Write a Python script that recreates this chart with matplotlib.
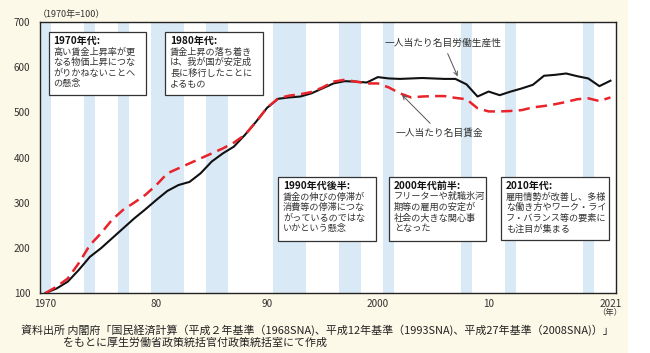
import numpy as np
import matplotlib.pyplot as plt
from matplotlib.patches import Rectangle

plt.rcParams['font.family'] = ['Noto Sans CJK JP', 'DejaVu Sans']

years = list(range(1970, 2022))
productivity = [100, 110, 125, 151, 180, 199, 221, 243, 265, 285,
                306, 326, 339, 346, 365, 391, 409, 424, 450, 479,
                510, 530, 533, 535, 542, 553, 564, 569, 568, 566,
                578, 575, 574, 575, 576, 575, 574, 574, 562, 535,
                546, 538, 546, 553, 561, 581, 583, 586, 580, 575,
                558, 570]
wage = [100, 114, 132, 166, 206, 232, 262, 284, 300, 317,
        339, 365, 376, 387, 398, 409, 420, 433, 450, 479,
        510, 531, 537, 540, 545, 555, 568, 572, 568, 564,
        564, 555, 542, 533, 535, 536, 536, 532, 529, 509,
        502, 502, 503, 505, 511, 514, 518, 523, 529, 531,
        525, 533]

# 景気後退期
band_start = [1969.5, 1973.5, 1976.5, 1979.5, 1984.5, 1990.5, 1996.5, 2000.5, 2007.5, 2011.5, 2018.5]
band_end = [1970.5, 1974.5, 1977.5, 1982.5, 1986.5, 1993.5, 1998.5, 2001.5, 2008.5, 2012.5, 2019.5]

xticks = [1970, 1980, 1990, 2000, 2010, 2021]
xticklabels = ['1970', '80', '90', '2000', '10', '2021']

box_titles = ['1970年代:', '1980年代:', '1990年代後半:', '2000年代前半:', '2010年代:']
box_texts = [
    '高い賃金上昇率が更\nなる物価上昇につな\nがりかねないことへ\nの懸念',
    '賃金上昇の落ち着き\nは、我が国が安定成\n長に移行したことに\nよるもの',
    '賃金の伸びの停滞が\n消費等の停滞につな\nがっているのではな\nいかという懸念',
    'フリーターや就職氷河\n期等の雇用の安定が\n社会の大きな関心事\nとなった',
    '雇用情勢が改善し、多様\nな働き方やワーク・ライ\nフ・バランス等の要素に\nも注目が集まる',
]
# box extents (years, index values)
box_x0 = [1970.27, 1980.8, 1991.0, 2001.0, 2011.1]
box_x1 = [1979.1, 1989.6, 1999.8, 2009.8, 2020.9]
box_y0 = [538, 538, 215, 215, 217]
box_y1 = [678, 678, 357, 357, 357]

cream = '#FDF9E8'
fig = plt.figure(figsize=(6.5, 3.53), dpi=100, facecolor=cream)
fig.patches.append(Rectangle((628 / 650, 0), 22 / 650, 1, transform=fig.transFigure,
                             facecolor='white', edgecolor='none', zorder=0))
ax = fig.add_axes([40 / 650, 1 - 293 / 353, 576 / 650, 271 / 353])
ax.set_facecolor('white')

for s, e in zip(band_start, band_end):
    ax.axvspan(s, e, color='#D9E9F6', lw=0, zorder=0)

ax.plot(years, productivity, color='#111111', lw=1.5, zorder=3)
ax.plot(years, wage, color='#E8232A', lw=1.8, ls=(0, (4.5, 2.5)), zorder=4)

ax.set_xlim(1969.5, 2021.5)
ax.set_ylim(100, 700)
ax.set_yticks(range(100, 701, 100))
ax.set_xticks(xticks)
ax.set_xticklabels(xticklabels)
ax.tick_params(length=0, labelsize=7.2, colors='#333333')
ax.tick_params(axis='y', pad=7)
ax.tick_params(axis='x', pad=4)
for sp in ax.spines.values():
    sp.set_color('#222222')
    sp.set_linewidth(1.0)

for t, body, x0, x1, y0, y1 in zip(box_titles, box_texts, box_x0, box_x1, box_y0, box_y1):
    ax.add_patch(Rectangle((x0, y0), x1 - x0, y1 - y0, facecolor='white',
                           edgecolor='#333333', lw=0.9, zorder=5))
    ax.text(x0 + 0.45, y1 - 8, t, fontsize=7.2, fontweight='bold', va='top',
            ha='left', color='#111111', zorder=6)
    ax.text(x0 + 0.45, y1 - 34, body, fontsize=6.6, va='top', ha='left',
            color='#333333', linespacing=1.2, zorder=6)

ax.annotate('一人当たり名目労働生産性', xy=(2007.3, 574), xytext=(2005.9, 653),
            fontsize=7, color='#333333', ha='center', va='center',
            arrowprops=dict(arrowstyle='->', color='#555555', lw=0.7), zorder=7)
ax.annotate('一人当たり名目賃金', xy=(2002.0, 543), xytext=(2005.6, 454),
            fontsize=7, color='#333333', ha='center', va='center',
            arrowprops=dict(arrowstyle='->', color='#555555', lw=0.7), zorder=7)

fig.text(38 / 650, 1 - 15 / 353, '（1970年=100）', fontsize=6.5, color='#333333',
         ha='left', va='center')
fig.text(610 / 650, 1 - 312 / 353, '（年）', fontsize=6, color='#333333',
         ha='center', va='center')
fig.text(21 / 650, 1 - 330 / 353,
         '資料出所 内閣府「国民経済計算（平成２年基準（1968SNA)、平成12年基準（1993SNA)、平成27年基準（2008SNA)）」',
         fontsize=7.9, color='#222222', ha='left', va='center')
fig.text(63 / 650, 1 - 343 / 353, 'をもとに厚生労働省政策統括官付政策統括室にて作成',
         fontsize=7.9, color='#222222', ha='left', va='center')

fig.savefig('out.png', dpi=100, facecolor=cream)
